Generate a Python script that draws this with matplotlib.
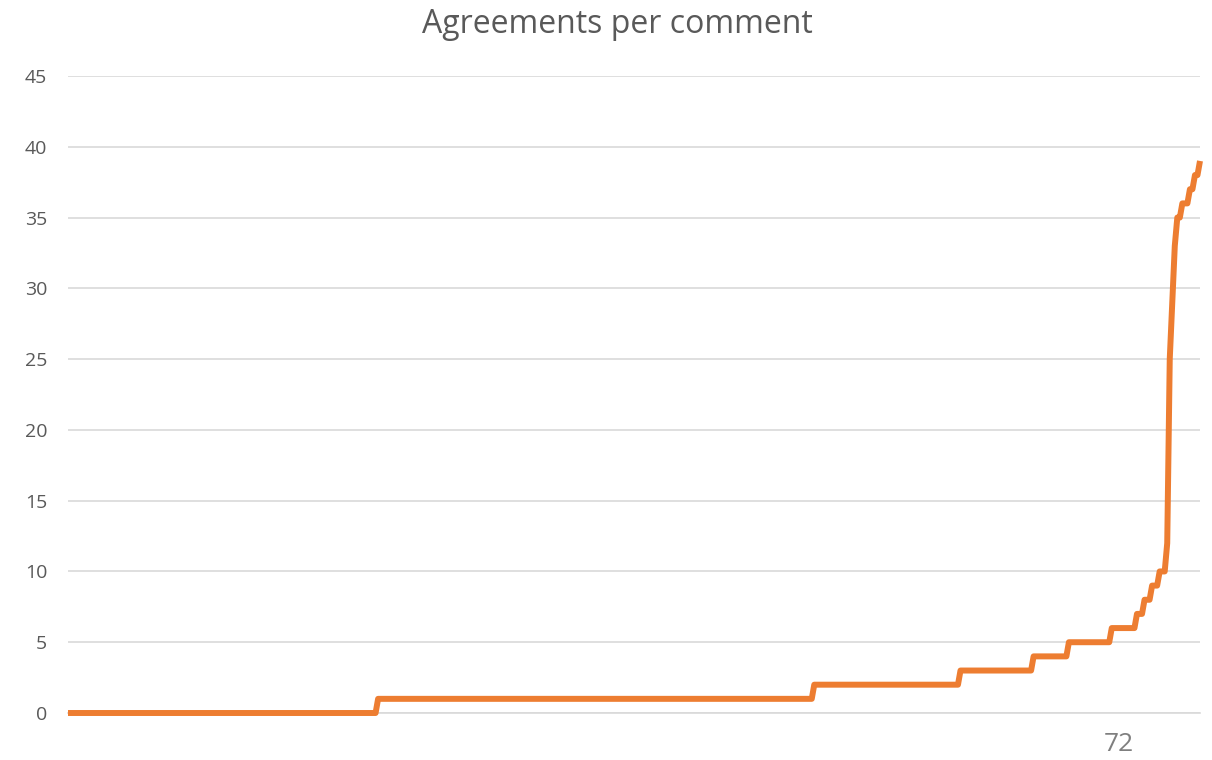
import matplotlib.pyplot as plt
import numpy as np

# sorted agreement counts: value and how many comments have it
values = [0, 1, 2, 3, 4, 5, 6, 7, 8, 9, 10, 12, 25, 29, 33, 35, 36, 37, 38, 39]
counts = [123, 173, 58, 29, 14, 17, 10, 3, 3, 3, 3, 1, 1, 1, 1, 2, 3, 2, 2, 1]
agreements = np.repeat(values, counts)

x_tick_pos = [417]
x_tick_labels = ["72"]
y_ticks = [0, 5, 10, 15, 20, 25, 30, 35, 40, 45]

plt.rcParams["font.family"] = ["Open Sans", "DejaVu Sans"]
text_color = "#595959"

fig = plt.figure(figsize=(12.12, 7.6), dpi=100)
ax = fig.add_axes([68 / 1212, 1 - 713 / 760, (1200 - 68) / 1212, (713 - 76) / 760])

ax.plot(np.arange(len(agreements)), agreements, color="#ED7D31", linewidth=4.3,
        solid_joinstyle="round", solid_capstyle="butt", zorder=3, clip_on=False)

ax.set_xlim(0, len(agreements) - 1)
ax.set_ylim(0, 45)
ax.set_yticks(y_ticks)
ax.set_xticks(x_tick_pos)
ax.set_xticklabels(x_tick_labels, fontsize=19, color="#7F7F7F")
ax.tick_params(axis="y", length=0, pad=15, labelsize=14, labelcolor=text_color)
ax.tick_params(axis="x", length=0, pad=14)
ax.grid(axis="y", color="#D9D9D9", linewidth=1.2)
ax.set_axisbelow(True)
for side in ["top", "right", "left"]:
    ax.spines[side].set_visible(False)
ax.spines["bottom"].set_color("#D9D9D9")
ax.spines["bottom"].set_linewidth(1.2)

fig.suptitle("Agreements per comment", fontsize=23, color=text_color,
             x=0.509, y=0.99, va="top")

fig.savefig("out.png", dpi=100)
